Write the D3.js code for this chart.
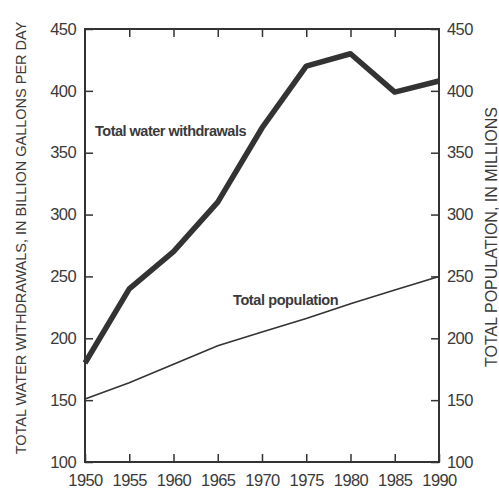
<!DOCTYPE html>
<html>
<head>
<meta charset="utf-8">
<script src="https://cdn.jsdelivr.net/npm/d3@7"></script>
<style>
  body { margin: 0; background: #fff; }
  text { font-family: "Liberation Sans", Arial, sans-serif; fill: #3a3a3a; }
</style>
</head>
<body>
<div id="chart"></div>
<script>
// values
const years = [1950, 1955, 1960, 1965, 1970, 1975, 1980, 1985, 1990];
const withdrawals = [180, 240, 270, 310, 370, 420, 430, 399, 408];
const population = [151, 164, 179, 194, 205, 216, 228, 239, 250];
const yTicks = [100, 150, 200, 250, 300, 350, 400, 450];

const width = 499, height = 493;
const margin = { top: 29, right: 60, bottom: 31, left: 85 };

const svg = d3.select('#chart').append('svg')
    .attr('width', width).attr('height', height);

const x = d3.scaleLinear().domain([1950, 1990]).range([margin.left, width - margin.right]);
const y = d3.scaleLinear().domain([100, 450]).range([height - margin.bottom, margin.top]);

const ink = '#333';

// frame
svg.append('rect')
    .attr('x', x(1950)).attr('y', y(450))
    .attr('width', x(1990) - x(1950)).attr('height', y(100) - y(450))
    .attr('fill', 'none').attr('stroke', ink).attr('stroke-width', 2);

// inward ticks
const tickLen = 8;
const drawAxis = (axis, transform) => {
    const g = svg.append('g').attr('transform', transform).call(axis);
    g.select('.domain').remove();
    g.selectAll('.tick line').attr('stroke', ink).attr('stroke-width', 1.5);
    g.selectAll('.tick text').attr('font-size', 16.5).attr('letter-spacing', -0.6).attr('fill', '#3a3a3a');
    return g;
};

drawAxis(d3.axisLeft(y).tickValues(yTicks).tickSize(-tickLen).tickPadding(9).tickFormat(d3.format('d')),
    `translate(${x(1950)},0)`);
drawAxis(d3.axisRight(y).tickValues(yTicks).tickSize(-tickLen).tickPadding(8).tickFormat(d3.format('d')),
    `translate(${x(1990)},0)`);
drawAxis(d3.axisBottom(x).tickValues(years).tickSize(-tickLen).tickPadding(12).tickFormat(d3.format('d')),
    `translate(0,${y(100)})`);
drawAxis(d3.axisTop(x).tickValues(years.slice(1, -1)).tickSize(-tickLen).tickFormat(''),
    `translate(0,${y(450)})`);

// lines
const line = d3.line().x((d, i) => x(years[i])).y(d => y(d));
svg.append('path').datum(withdrawals)
    .attr('d', line).attr('fill', 'none')
    .attr('stroke', ink).attr('stroke-width', 5.5).attr('stroke-linejoin', 'round');
svg.append('path').datum(population)
    .attr('d', line).attr('fill', 'none')
    .attr('stroke', ink).attr('stroke-width', 1.6);

// series labels
svg.append('text').attr('x', 95).attr('y', 136)
    .attr('font-size', 14.5).attr('font-weight', 'bold').attr('letter-spacing', -0.5)
    .text('Total water withdrawals');
svg.append('text').attr('x', 233).attr('y', 305)
    .attr('font-size', 14.5).attr('font-weight', 'bold').attr('letter-spacing', -0.4)
    .text('Total population');

// axis titles
svg.append('text')
    .attr('transform', 'translate(26,238) rotate(-90)')
    .attr('text-anchor', 'middle').attr('font-size', 14.5)
    .text('TOTAL WATER WITHDRAWALS, IN BILLION GALLONS PER DAY');
svg.append('text')
    .attr('transform', 'translate(497,237) rotate(-90)')
    .attr('text-anchor', 'middle').attr('font-size', 16)
    .text('TOTAL POPULATION, IN MILLIONS');
</script>
</body>
</html>
